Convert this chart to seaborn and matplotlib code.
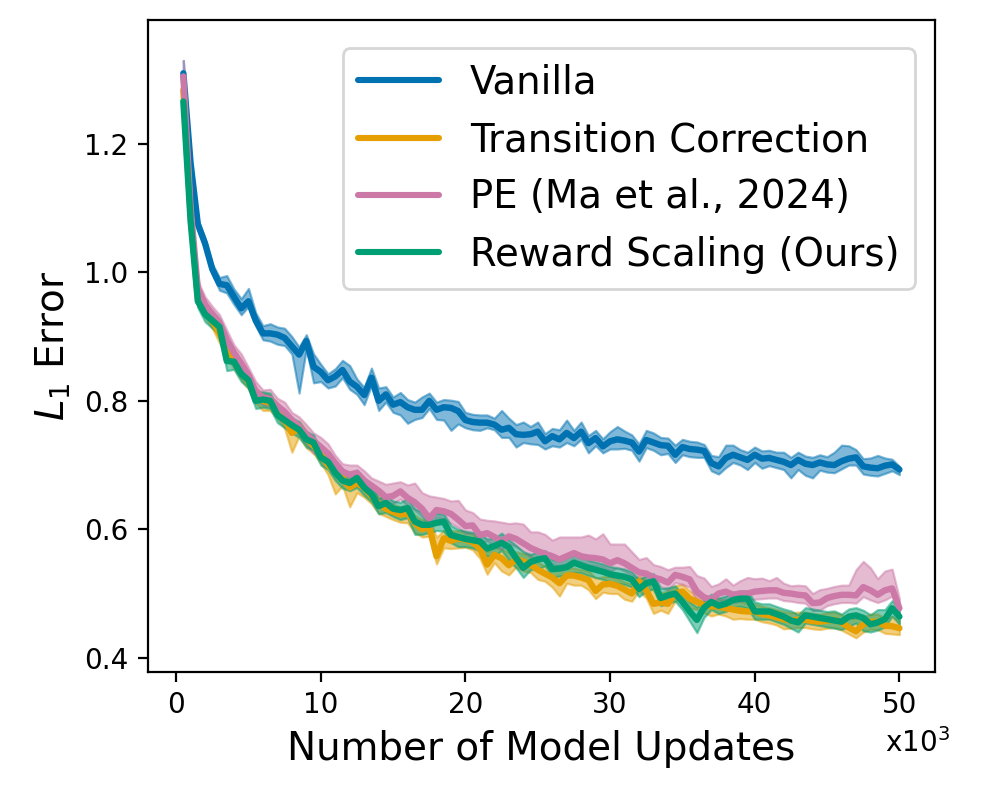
import numpy as np
import pandas as pd
import matplotlib
matplotlib.use("Agg")
import matplotlib.pyplot as plt
import seaborn as sns

# ---------------- data (x in thousands of model updates) ----------------
steps = [0.5 * (i + 1) for i in range(100)]

vanilla = [1.31, 1.17, 1.075, 1.045, 1.005, 0.982, 0.980, 0.962, 0.944, 0.955,
           0.925, 0.905, 0.905, 0.903, 0.898, 0.885, 0.872, 0.893, 0.853, 0.845,
           0.832, 0.838, 0.848, 0.830, 0.822, 0.809, 0.836, 0.800, 0.810, 0.794,
           0.798, 0.790, 0.786, 0.786, 0.800, 0.786, 0.790, 0.789, 0.784, 0.770,
           0.767, 0.766, 0.766, 0.763, 0.755, 0.758, 0.748, 0.747, 0.748, 0.752,
           0.737, 0.745, 0.740, 0.750, 0.742, 0.752, 0.734, 0.742, 0.729, 0.737,
           0.740, 0.738, 0.735, 0.721, 0.739, 0.735, 0.731, 0.730, 0.716, 0.728,
           0.725, 0.724, 0.722, 0.703, 0.698, 0.711, 0.716, 0.712, 0.708, 0.716,
           0.710, 0.711, 0.708, 0.705, 0.700, 0.708, 0.702, 0.700, 0.704, 0.701,
           0.700, 0.706, 0.710, 0.712, 0.698, 0.696, 0.695, 0.699, 0.701, 0.693]
vanilla_lo = [.010, .010, .008, .008, .008, .010, .012, .012, .010, .008,
              .008, .010, .012, .015, .012, .012, .060, .012, .025, .015,
              .012, .015, .012, .012, .012, .015, .012, .015, .012, .012,
              .020, .025, .015, .012, .012, .015, .020, .035, .020, .012,
              .012, .012, .008, .008, .012, .015, .020, .012, .015, .020,
              .012, .015, .012, .015, .012, .012, .015, .012, .010, .012,
              .015, .012, .012, .015, .012, .012, .015, .012, .012, .012,
              .012, .012, .010, .012, .012, .015, .012, .012, .015, .012,
              .015, .012, .012, .012, .020, .015, .018, .020, .012, .012,
              .012, .012, .010, .012, .012, .012, .012, .012, .010, .008]
vanilla_hi = [.020, .010, .008, .008, .008, .010, .015, .012, .015, .020,
              .012, .012, .015, .012, .015, .015, .012, .010, .020, .012,
              .010, .012, .015, .025, .012, .012, .015, .020, .012, .012,
              .015, .012, .012, .020, .012, .012, .012, .012, .015, .012,
              .012, .012, .012, .010, .030, .015, .015, .020, .012, .015,
              .012, .012, .015, .020, .012, .015, .012, .012, .012, .015,
              .020, .015, .012, .012, .015, .015, .012, .012, .015, .012,
              .012, .012, .010, .012, .015, .020, .015, .012, .012, .012,
              .012, .012, .012, .015, .012, .012, .012, .012, .012, .012,
              .020, .025, .020, .012, .012, .015, .020, .012, .008, .005]

transition = [1.284, 1.09, 0.960, 0.940, 0.925, 0.905, 0.880, 0.862, 0.848, 0.830,
              0.808, 0.800, 0.797, 0.785, 0.772, 0.750, 0.757, 0.742, 0.730, 0.718,
              0.700, 0.690, 0.680, 0.665, 0.672, 0.665, 0.652, 0.640, 0.632, 0.627,
              0.623, 0.625, 0.610, 0.600, 0.604, 0.558, 0.586, 0.582, 0.586, 0.584,
              0.580, 0.570, 0.545, 0.560, 0.555, 0.544, 0.553, 0.550, 0.545, 0.537,
              0.531, 0.525, 0.516, 0.528, 0.528, 0.525, 0.521, 0.504, 0.514, 0.515,
              0.512, 0.506, 0.500, 0.519, 0.505, 0.484, 0.486, 0.484, 0.500, 0.503,
              0.492, 0.487, 0.482, 0.480, 0.480, 0.477, 0.475, 0.473, 0.472, 0.472,
              0.468, 0.466, 0.463, 0.460, 0.458, 0.459, 0.459, 0.457, 0.456, 0.458,
              0.459, 0.455, 0.447, 0.441, 0.452, 0.456, 0.456, 0.450, 0.449, 0.446]
transition_lo = [.010, .010, .010, .010, .012, .015, .012, .012, .015, .012,
                 .012, .015, .012, .012, .015, .030, .012, .015, .012, .015,
                 .015, .035, .012, .030, .015, .015, .012, .015, .012, .012,
                 .012, .015, .015, .012, .015, .012, .015, .012, .015, .012,
                 .012, .015, .015, .012, .020, .015, .012, .015, .012, .015,
                 .012, .015, .020, .012, .015, .012, .015, .012, .012, .015,
                 .012, .015, .012, .015, .012, .015, .012, .015, .012, .012,
                 .015, .012, .012, .015, .012, .012, .015, .012, .012, .012,
                 .012, .012, .012, .015, .012, .012, .012, .012, .012, .012,
                 .012, .012, .010, .010, .012, .012, .012, .012, .012, .010]
transition_hi = [.010, .010, .010, .010, .012, .012, .012, .012, .012, .012,
                 .012, .012, .012, .012, .012, .015, .012, .012, .012, .012,
                 .012, .012, .012, .015, .012, .012, .012, .015, .012, .012,
                 .012, .012, .012, .015, .012, .030, .012, .015, .012, .012,
                 .012, .015, .020, .012, .015, .020, .012, .012, .015, .012,
                 .012, .015, .020, .012, .012, .012, .015, .020, .012, .012,
                 .012, .012, .015, .010, .015, .020, .015, .020, .012, .012,
                 .012, .012, .015, .012, .012, .012, .012, .015, .012, .012,
                 .012, .012, .012, .012, .012, .012, .012, .012, .012, .012,
                 .012, .012, .015, .020, .012, .012, .012, .012, .015, .012]

pe = [1.305, 1.10, 0.975, 0.950, 0.935, 0.922, 0.895, 0.875, 0.858, 0.840,
      0.815, 0.805, 0.803, 0.792, 0.783, 0.770, 0.760, 0.748, 0.738, 0.728,
      0.718, 0.703, 0.690, 0.685, 0.688, 0.676, 0.668, 0.660, 0.650, 0.652,
      0.659, 0.649, 0.642, 0.632, 0.617, 0.630, 0.628, 0.624, 0.615, 0.605,
      0.606, 0.591, 0.594, 0.588, 0.581, 0.589, 0.585, 0.578, 0.571, 0.566,
      0.562, 0.558, 0.553, 0.558, 0.563, 0.558, 0.556, 0.555, 0.553, 0.547,
      0.552, 0.547, 0.540, 0.533, 0.531, 0.525, 0.522, 0.517, 0.529, 0.526,
      0.522, 0.503, 0.494, 0.491, 0.500, 0.503, 0.498, 0.500, 0.500, 0.503,
      0.504, 0.505, 0.505, 0.501, 0.500, 0.498, 0.497, 0.485, 0.486, 0.493,
      0.496, 0.498, 0.498, 0.497, 0.510, 0.505, 0.498, 0.505, 0.508, 0.477]
pe_lo = [.010, .010, .010, .010, .010, .012, .012, .012, .012, .012,
         .012, .012, .012, .012, .012, .012, .012, .015, .020, .012,
         .012, .015, .012, .012, .012, .012, .015, .012, .015, .012,
         .012, .012, .012, .012, .015, .012, .012, .015, .012, .012,
         .012, .012, .012, .015, .012, .012, .012, .012, .015, .012,
         .012, .012, .012, .012, .012, .012, .012, .012, .012, .012,
         .012, .012, .012, .012, .015, .012, .012, .012, .012, .012,
         .012, .015, .012, .012, .012, .012, .012, .012, .012, .012,
         .012, .012, .012, .012, .012, .012, .012, .012, .012, .012,
         .012, .012, .012, .012, .015, .015, .012, .015, .012, .012]
pe_hi = [.025, .012, .012, .012, .012, .012, .015, .012, .015, .012,
         .015, .012, .015, .012, .015, .012, .015, .015, .012, .015,
         .015, .012, .012, .015, .012, .015, .012, .015, .020, .020,
         .015, .020, .030, .025, .035, .020, .020, .020, .030, .025,
         .020, .025, .020, .025, .030, .020, .025, .030, .025, .030,
         .030, .025, .035, .030, .025, .030, .035, .030, .040, .030,
         .025, .030, .025, .020, .025, .020, .020, .020, .012, .015,
         .020, .025, .030, .020, .015, .020, .015, .020, .025, .020,
         .020, .015, .020, .015, .012, .015, .015, .015, .020, .015,
         .015, .015, .015, .040, .040, .035, .025, .030, .030, .015]

reward_scaling = [1.266, 1.08, 0.955, 0.935, 0.925, 0.915, 0.862, 0.861, 0.842, 0.832,
                  0.800, 0.802, 0.800, 0.778, 0.770, 0.762, 0.755, 0.740, 0.735, 0.712,
                  0.705, 0.688, 0.676, 0.672, 0.680, 0.665, 0.655, 0.636, 0.641, 0.632,
                  0.630, 0.633, 0.612, 0.607, 0.607, 0.610, 0.612, 0.591, 0.588, 0.585,
                  0.583, 0.581, 0.570, 0.574, 0.579, 0.572, 0.555, 0.540, 0.549, 0.553,
                  0.555, 0.538, 0.539, 0.541, 0.548, 0.544, 0.540, 0.537, 0.534, 0.530,
                  0.528, 0.526, 0.522, 0.507, 0.516, 0.519, 0.493, 0.497, 0.500, 0.487,
                  0.472, 0.459, 0.478, 0.487, 0.481, 0.484, 0.490, 0.492, 0.492, 0.472,
                  0.472, 0.472, 0.468, 0.464, 0.458, 0.455, 0.466, 0.464, 0.462, 0.460,
                  0.458, 0.456, 0.464, 0.466, 0.462, 0.452, 0.455, 0.460, 0.477, 0.464]
reward_scaling_lo = [.010, .010, .010, .012, .012, .012, .015, .012, .012, .012,
                     .012, .012, .012, .012, .012, .012, .012, .012, .012, .012,
                     .012, .012, .012, .012, .015, .012, .012, .012, .015, .012,
                     .015, .015, .020, .015, .012, .012, .015, .012, .015, .012,
                     .012, .015, .012, .015, .012, .020, .015, .015, .012, .015,
                     .012, .012, .012, .012, .015, .012, .012, .012, .012, .012,
                     .012, .012, .012, .012, .012, .012, .012, .012, .012, .012,
                     .015, .020, .015, .012, .012, .012, .012, .012, .015, .012,
                     .012, .012, .012, .012, .012, .015, .012, .012, .012, .012,
                     .012, .012, .015, .012, .020, .012, .012, .012, .012, .012]
reward_scaling_hi = [.010, .010, .010, .012, .015, .012, .015, .015, .012, .012,
                     .012, .012, .012, .012, .012, .012, .012, .012, .012, .012,
                     .012, .012, .012, .015, .012, .012, .015, .012, .012, .012,
                     .012, .015, .020, .020, .012, .015, .012, .015, .012, .012,
                     .012, .012, .015, .012, .015, .012, .020, .025, .012, .012,
                     .012, .015, .012, .015, .012, .015, .012, .012, .012, .012,
                     .012, .012, .012, .015, .012, .012, .015, .012, .012, .012,
                     .015, .020, .012, .012, .012, .012, .012, .012, .012, .015,
                     .012, .012, .012, .012, .015, .012, .012, .012, .012, .012,
                     .015, .012, .012, .012, .012, .015, .020, .015, .012, .012]

labels = ["Vanilla", "Transition Correction", "PE (Ma et al., 2024)", "Reward Scaling (Ours)"]
means = [vanilla, transition, pe, reward_scaling]
lows = [vanilla_lo, transition_lo, pe_lo, reward_scaling_lo]
highs = [vanilla_hi, transition_hi, pe_hi, reward_scaling_hi]

colors = ["#0072B2", "#E69F00", "#CC79A7", "#009E73"]

# ---------------- plot ----------------
sns.set_style("ticks")
plt.rcParams['font.family'] = ['DejaVu Sans']
for k in ["text.color", "axes.labelcolor", "xtick.color", "ytick.color", "axes.edgecolor"]:
    plt.rcParams[k] = "black"

frames = []
for lab, m in zip(labels, means):
    frames.append(pd.DataFrame({"step": steps, "err": m, "method": lab}))
df = pd.concat(frames, ignore_index=True)

fig, ax = plt.subplots(figsize=(4.985, 3.985), dpi=200)
fig.subplots_adjust(left=0.148, right=0.938, top=0.975, bottom=0.157)

for lab, m, lo, hi, c in zip(labels, means, lows, highs, colors):
    m = np.asarray(m)
    ax.fill_between(steps, m - np.asarray(lo), m + np.asarray(hi),
                    color=c, alpha=0.5, linewidth=0.8, edgecolor=c)

sns.lineplot(data=df, x="step", y="err", hue="method", hue_order=labels,
             palette=colors, linewidth=2.3, ax=ax, errorbar=None)

ax.set_ylim(0.378, 1.393)
ax.set_xticks([0, 10, 20, 30, 40, 50])
ax.set_yticks([0.4, 0.6, 0.8, 1.0, 1.2])
ax.tick_params(labelsize=10, colors="black")
ax.set_xlabel("Number of Model Updates", fontsize=14)
ax.set_ylabel("$L_1$ Error", fontsize=14)
for s in ax.spines.values():
    s.set_linewidth(0.8)
    s.set_color("black")

leg = ax.legend(loc="upper right", fontsize=13.9, frameon=True, handlelength=2.1,
                borderaxespad=0.6, bbox_to_anchor=(1.004, 0.992))
for h in leg.get_lines():
    h.set_linewidth(2.2)

fig.text(0.888, 0.068, "x10$^3$", fontsize=10, ha="left", va="center")

fig.savefig("out.png", dpi=200)
